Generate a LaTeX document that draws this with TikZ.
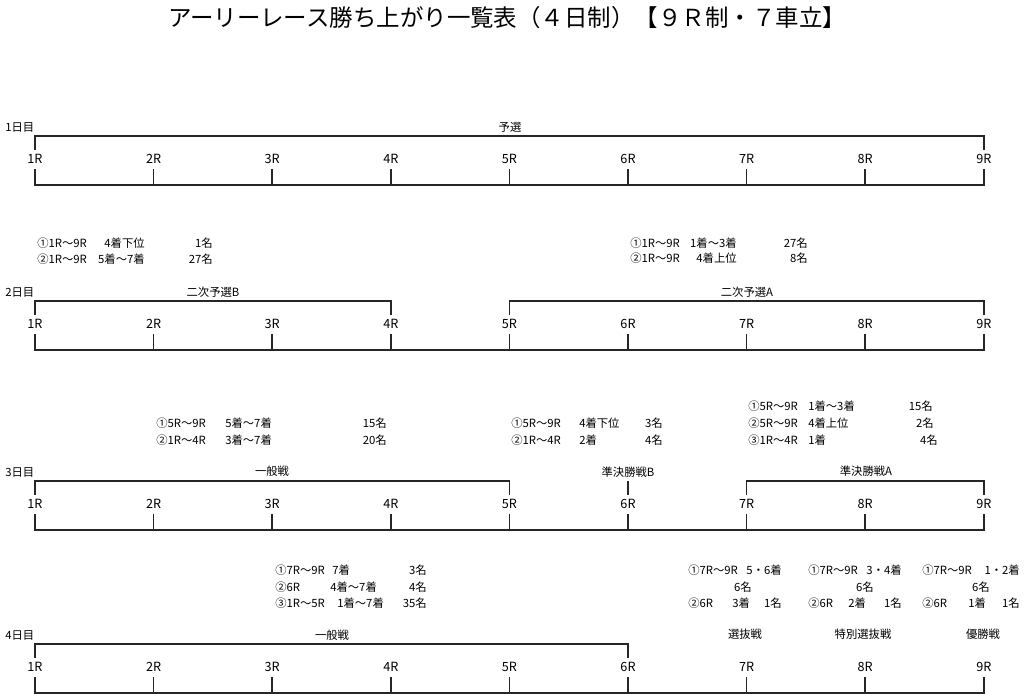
\documentclass[tikz,border=0pt]{standalone}
\usepackage{fontspec}
\setmainfont{Noto Sans CJK JP}
\usetikzlibrary{calc}
\newcommand{\raceday}[2]{%
  \foreach \i in {1,...,9}{%
    \node[rlab] (d#1r\i) at ({35+(\i-1)*118.6},#2) {\i R};
    \coordinate (d#1u\i) at ({35+(\i-1)*118.6},#2-10);
    \coordinate (d#1t\i) at ({35+(\i-1)*118.6},#2-23);
    \coordinate (d#1l\i) at ({35+(\i-1)*118.6},#2+11);
    \coordinate (d#1b\i) at ({35+(\i-1)*118.6},#2+26);
    \draw[ln] (d#1l\i) -- (d#1b\i);
  }
  \draw[ln] (d#1b1) -- (d#1b9);
}
\begin{document}
\begin{tikzpicture}[x=0.75pt,y=-0.75pt,
  ln/.style={line width=1.15pt,black!85,line cap=rect},
  rlab/.style={font=\fontsize{9.5}{10}\selectfont,inner sep=0pt},
  sm/.style={font=\fontsize{8.5}{9}\selectfont,inner sep=0pt},
  ttl/.style={font=\fontsize{17.6}{18}\selectfont,inner sep=0pt}]
\useasboundingbox (0,0) rectangle (1024,693);
\fill[white] (0,0) rectangle (1024,693);

\node[ttl] (title) at (507,18) {アーリーレース勝ち上がり一覧表（４日制）【９Ｒ制・７車立】};

% ---- days
\raceday{1}{159}
\raceday{2}{324}
\raceday{3}{504}
\raceday{4}{667}

% brackets
\draw[ln] (d1u1) -- (d1t1) -- (d1t9) -- (d1u9);
\draw[ln] (d2u1) -- (d2t1) -- (d2t4) -- (d2u4);
\draw[ln] (d2u5) -- (d2t5) -- (d2t9) -- (d2u9);
\draw[ln] (d3u1) -- (d3t1) -- (d3t5) -- (d3u5);
\draw[ln] (d3u6) -- ($(d3t6)+(0,1)$);
\draw[ln] (d3u7) -- (d3t7) -- (d3t9) -- (d3u9);
\draw[ln] (d4u1) -- (d4t1) -- (d4t6) -- (d4u6);

% day labels
\node[sm,anchor=west] (day1) at (5,128) {1日目};
\node[sm,anchor=west] (day2) at (5,293) {2日目};
\node[sm,anchor=west] (day3) at (5,473) {3日目};
\node[sm,anchor=west] (day4) at (5,635) {4日目};

% bracket labels
\node[sm] (k1) at (510,127) {予選};
\node[sm] (k2b) at (213,292) {二次予選B};
\node[sm] (k2a) at (747,292) {二次予選A};
\node[sm] (k3c) at (272,471) {一般戦};
\node[sm] (k3b) at (628,472) {準決勝戦B};
\node[sm] (k3a) at (866,471) {準決勝戦A};
\node[sm] (k4c) at (332,635) {一般戦};
\node[sm] (k4s) at (745,634) {選抜戦};
\node[sm] (k4t) at (863,634) {特別選抜戦};
\node[sm] (k4y) at (983,634) {優勝戦};

% ---- day 2 qualifiers
\node[sm,anchor=west] (a1) at (37,243) {①1R～9R};
\node[sm,anchor=east] (a2) at (145,243) {4着下位};
\node[sm,anchor=east] (a3) at (213,243) {1名};
\node[sm,anchor=west] (a4) at (37,259) {②1R～9R};
\node[sm,anchor=east] (a5) at (145,259) {5着～7着};
\node[sm,anchor=east] (a6) at (213,259) {27名};

\node[sm,anchor=west] (b1) at (630,243) {①1R～9R};
\node[sm,anchor=east] (b2) at (737,243) {1着～3着};
\node[sm,anchor=east] (b3) at (808,243) {27名};
\node[sm,anchor=west] (b4) at (630,258) {②1R～9R};
\node[sm,anchor=east] (b5) at (737,258) {4着上位};
\node[sm,anchor=east] (b6) at (808,258) {8名};

% ---- day 3 qualifiers
\node[sm,anchor=west] (c1) at (156,423) {①5R～9R};
\node[sm,anchor=west] (c2) at (225,423) {5着～7着};
\node[sm,anchor=east] (c3) at (387,423) {15名};
\node[sm,anchor=west] (c4) at (156,440) {②1R～4R};
\node[sm,anchor=west] (c5) at (225,440) {3着～7着};
\node[sm,anchor=east] (c6) at (387,440) {20名};

\node[sm,anchor=west] (e1) at (511,423) {①5R～9R};
\node[sm,anchor=west] (e2) at (579,423) {4着下位};
\node[sm,anchor=east] (e3) at (663,423) {3名};
\node[sm,anchor=west] (e4) at (511,440) {②1R～4R};
\node[sm,anchor=west] (e5) at (579,440) {2着};
\node[sm,anchor=east] (e6) at (663,440) {4名};

\node[sm,anchor=west] (f1) at (748,406) {①5R～9R};
\node[sm,anchor=west] (f2) at (808,406) {1着～3着};
\node[sm,anchor=east] (f3) at (933,406) {15名};
\node[sm,anchor=west] (f4) at (748,423) {②5R～9R};
\node[sm,anchor=west] (f5) at (808,423) {4着上位};
\node[sm,anchor=east] (f6) at (934,423) {2名};
\node[sm,anchor=west] (f7) at (748,440) {③1R～4R};
\node[sm,anchor=west] (f8) at (808,440) {1着};
\node[sm,anchor=east] (f9) at (938,440) {4名};

% ---- day 4 qualifiers
\node[sm,anchor=west] (g1) at (275,570) {①7R～9R};
\node[sm,anchor=west] (g2) at (332,570) {7着};
\node[sm,anchor=east] (g3) at (427,570) {3名};
\node[sm,anchor=west] (g4) at (275,587) {②6R};
\node[sm,anchor=west] (g5) at (330,587) {4着～7着};
\node[sm,anchor=east] (g6) at (427,587) {4名};
\node[sm,anchor=west] (g7) at (275,603) {③1R～5R};
\node[sm,anchor=west] (g8) at (337,603) {1着～7着};
\node[sm,anchor=east] (g9) at (427,603) {35名};

\node[sm,anchor=west] (h1) at (688,570) {①7R～9R};
\node[sm,anchor=east] (h2) at (782,570) {5・6着};
\node[sm] (h3) at (743,587) {6名};
\node[sm,anchor=west] (h4) at (688,603) {②6R};
\node[sm,anchor=west] (h5) at (732,603) {3着};
\node[sm,anchor=east] (h6) at (782,603) {1名};

\node[sm,anchor=west] (i1) at (808,570) {①7R～9R};
\node[sm,anchor=east] (i2) at (902,570) {3・4着};
\node[sm] (i3) at (865,587) {6名};
\node[sm,anchor=west] (i4) at (808,603) {②6R};
\node[sm,anchor=west] (i5) at (848,603) {2着};
\node[sm,anchor=east] (i6) at (902,603) {1名};

\node[sm,anchor=west] (j1) at (922,570) {①7R～9R};
\node[sm,anchor=east] (j2) at (1020,570) {1・2着};
\node[sm] (j3) at (981,587) {6名};
\node[sm,anchor=west] (j4) at (922,603) {②6R};
\node[sm,anchor=west] (j5) at (968,603) {1着};
\node[sm,anchor=east] (j6) at (1020,603) {1名};
\end{tikzpicture}
\end{document}
